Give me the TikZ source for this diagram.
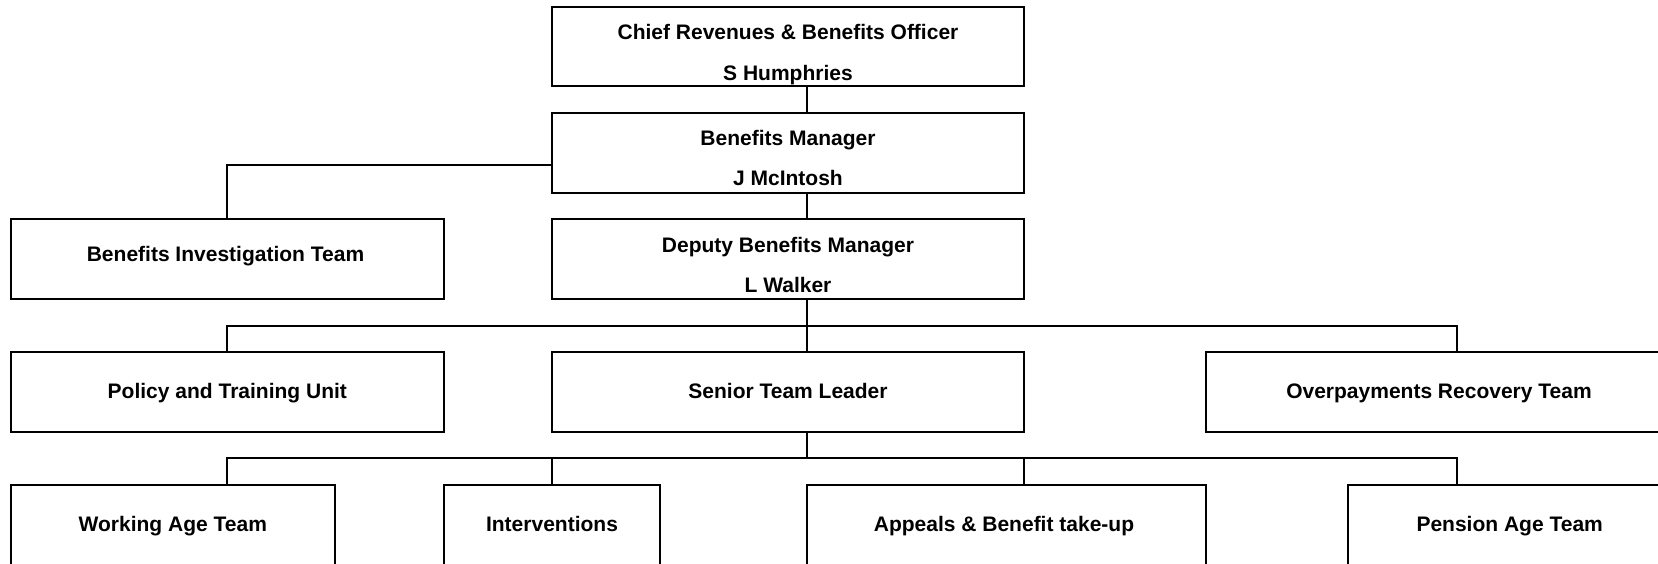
\documentclass[tikz,border=0pt]{standalone}
\usepackage{fontspec}
\setmainfont{Liberation Sans}
\begin{document}
\begin{tikzpicture}[x=1pt,y=-1pt,
  box/.style={draw, line width=2pt, rectangle, inner sep=0pt},
  lbl/.style={anchor=base, font=\bfseries\fontsize{21}{25}\selectfont, inner sep=0pt},
  conn/.style={line width=2pt}]
\clip (0,0) rectangle (1658,564);
\fill[white] (0,0) rectangle (1658,564);
% boxes
\node[box, minimum width=472pt, minimum height=79.3pt] (chief) at (788,46.35) {};
\node[box, minimum width=472pt, minimum height=80pt] (bm) at (788,152.7) {};
\node[box, minimum width=433.4pt, minimum height=80pt] (bit) at (227.3,259) {};
\node[box, minimum width=472pt, minimum height=80pt] (dep) at (788,259) {};
\node[box, minimum width=433.4pt, minimum height=80.6pt] (pol) at (227.3,392) {};
\node[box, minimum width=472pt, minimum height=80.6pt] (sen) at (788,392) {};
\node[box, minimum width=470pt, minimum height=80.6pt] (ovr) at (1441,392) {};
\node[box, minimum width=324.4pt, minimum height=81pt] (wat) at (172.8,525.5) {};
\node[box, minimum width=216pt, minimum height=81pt] (int) at (552,525.5) {};
\node[box, minimum width=399pt, minimum height=81pt] (app) at (1006.5,525.5) {};
\node[box, minimum width=325pt, minimum height=81pt] (pen) at (1510.5,525.5) {};
% texts
\node[lbl] (chiefA) at (788,40) {Chief Revenues \& Benefits Officer};
\node[lbl] (chiefB) at (788,80.7) {S Humphries};
\node[lbl] (bmA) at (788,146) {Benefits Manager};
\node[lbl] (bmB) at (788,185.7) {J McIntosh};
\node[lbl] (depA) at (788,252.7) {Deputy Benefits Manager};
\node[lbl] (depB) at (788,292.3) {L Walker};
\node[lbl] (bitA) at (225.5,261.7) {Benefits Investigation Team};
\node[lbl] (polA) at (227.3,398.3) {Policy and Training Unit};
\node[lbl] (senA) at (788,398.3) {Senior Team Leader};
\node[lbl] (ovrA) at (1439,398.3) {Overpayments Recovery Team};
\node[lbl] (watA) at (172.8,531.7) {Working Age Team};
\node[lbl] (intA) at (552,531.7) {Interventions};
\node[lbl] (appA) at (1004,531.7) {Appeals \& Benefit take-up};
\node[lbl] (penA) at (1509.7,531.7) {Pension Age Team};
% connector guide coordinates
\coordinate (xA) at (806.7,0);
\coordinate (xL) at (226.7,0);
\coordinate (xR) at (1456.7,0);
\coordinate (xP) at (1024,0);
\coordinate (ySide) at (0,165.5);
\coordinate (bus1) at (806.7,325.7);
\coordinate (bus2) at (806.7,457.7);
% connectors
\draw[conn] (chief.south -| xA) -- (bm.north -| xA);
\draw[conn] (bm.west |- ySide) -| (bit.north -| xL);
\draw[conn] (bm.south -| xA) -- (dep.north -| xA);
\draw[conn] (dep.south -| xA) -- (sen.north -| xA);
\draw[conn] (pol.north -| xL) |- (bus1) -| (ovr.north -| xR);
\draw[conn] (sen.south -| xA) -- (bus2);
\draw[conn] (wat.north -| xL) |- (bus2) -| (pen.north -| xR);
\draw[conn] (int.north) -- (int.north |- bus2);
\draw[conn] (app.north -| xP) -- (xP |- bus2);
\end{tikzpicture}
\end{document}
